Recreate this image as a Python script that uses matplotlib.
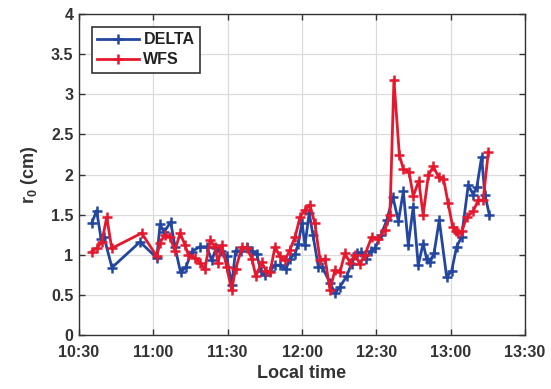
import matplotlib
matplotlib.use("Agg")
import matplotlib.pyplot as plt

# minutes after 10:30
delta_t = [5.1, 7.1, 8.9, 10.1, 13.3, 24.6, 31.4, 32.7, 34.3, 37.0, 38.7, 41.0, 43.2, 45.5,
           48.8, 51.5, 53.6, 55.3, 57.3, 59.6, 61.6, 63.2, 65.4, 67.7, 69.8, 71.7, 73.4,
           75.1, 77.1, 79.1, 81.1, 83.5, 85.1, 87.2, 88.5, 90.0, 91.2, 92.9, 94.4, 96.6,
           98.1, 101.3, 103.3, 105.3, 108.0, 110.0, 112.1, 113.8, 115.8, 117.8, 119.5,
           121.9, 124.2, 126.7, 128.9, 130.9, 132.9, 134.9, 136.9, 138.9, 140.3, 141.6,
           143.3, 145.4, 148.4, 150.4, 152.4, 154.4, 157.1, 159.1, 160.6, 162.5, 163.8, 165.6]
delta_v = [1.39, 1.55, 1.20, 1.22, 0.84, 1.16, 0.96, 1.38, 1.28, 1.41, 1.10, 0.78, 0.85, 1.04,
           1.10, 1.10, 0.93, 1.08, 1.05, 0.98, 0.62, 1.05, 1.05, 1.10, 1.05, 1.01, 0.80,
           0.75, 0.80, 0.87, 0.87, 0.82, 0.95, 1.01, 1.14, 1.40, 1.12, 1.52, 1.25, 0.85,
           0.85, 0.65, 0.52, 0.60, 0.73, 0.89, 1.02, 1.03, 0.95, 1.05, 1.08,
           1.25, 1.43, 1.72, 1.42, 1.79, 1.12, 1.60, 0.87, 1.14, 0.95, 0.91,
           1.02, 1.43, 0.72, 0.80, 1.10, 1.22, 1.87, 1.75, 1.85, 2.22, 1.75, 1.50]

wfs_t = [5.1, 7.1, 9.2, 11.2, 13.2, 25.3, 31.4, 32.7, 34.7, 36.7, 38.7, 40.8, 42.8, 44.1,
         46.8, 48.8, 50.8, 52.9, 54.9, 56.1, 57.6, 59.6, 61.6, 63.2, 65.8, 67.8, 69.8,
         71.4, 73.7, 75.5, 77.1, 79.1, 81.1, 83.1, 85.1, 87.2, 89.2, 91.2, 93.2, 95.2,
         97.3, 99.3, 101.3, 103.3, 105.3, 107.3, 109.4, 111.4, 113.4, 115.4, 118.1,
         120.7, 123.5, 125.5, 127.1, 129.3, 130.9, 133.2, 134.9, 137.1, 138.9, 141.0,
         143.0, 145.1, 147.1, 149.0, 150.8, 152.1, 153.1, 154.6, 156.5, 159.1, 161.1,
         163.1, 165.2]
wfs_v = [1.04, 1.08, 1.16, 1.47, 1.08, 1.27, 0.98, 1.15, 1.25, 1.22, 1.05, 1.27, 1.12, 1.00,
         0.96, 0.90, 0.82, 1.18, 1.10, 0.90, 1.12, 0.85, 0.56, 0.82, 1.10, 1.08, 0.95,
         0.73, 0.91, 0.80, 0.78, 1.10, 0.98, 0.93, 1.06, 1.22, 1.47, 1.56, 1.62, 1.39,
         0.93, 0.95, 0.56, 0.81, 0.78, 1.02, 0.90, 1.00, 0.88, 1.00, 1.22,
         1.20, 1.31, 1.50, 3.18, 2.24, 2.07, 2.03, 1.73, 1.92, 1.50, 1.99,
         2.10, 1.97, 1.95, 1.64, 1.35, 1.30, 1.27, 1.30, 1.47, 1.54, 1.68,
         1.68, 2.28]

x_ticks = [0, 30, 60, 90, 120, 150, 180]
x_labels = ["10:30", "11:00", "11:30", "12:00", "12:30", "13:00", "13:30"]
y_ticks = [0, 0.5, 1, 1.5, 2, 2.5, 3, 3.5, 4]
y_labels = ["0", "0.5", "1", "1.5", "2", "2.5", "3", "3.5", "4"]

plt.rcParams["font.family"] = ["Liberation Sans", "DejaVu Sans"]
plt.rcParams["mathtext.fontset"] = "custom"
plt.rcParams["mathtext.rm"] = "Liberation Sans:bold"
plt.rcParams["mathtext.bf"] = "Liberation Sans:bold"
plt.rcParams["mathtext.default"] = "bf"

fig = plt.figure(figsize=(5.51, 3.89), dpi=100)
ax = fig.add_axes([0.1434, 0.1388, 0.8094, 0.8252])

blue = "#2347a0"
red = "#e5182e"
ax.plot(delta_t, delta_v, color=blue, lw=2.0, marker="+", ms=7, mew=1.8, label="DELTA", zorder=3)
ax.plot(wfs_t, wfs_v, color=red, lw=2.0, marker="+", ms=7, mew=1.8, label="WFS", zorder=4)

ax.set_xlim(0, 180)
ax.set_ylim(0, 4)
ax.set_xticks(x_ticks)
ax.set_xticklabels(x_labels)
ax.set_yticks(y_ticks)
ax.set_yticklabels(y_labels)
ax.grid(True, color="#dcdcdc", lw=0.9)
ax.set_axisbelow(True)
for s in ax.spines.values():
    s.set_color("#333333")
    s.set_linewidth(1.0)
ax.tick_params(direction="in", top=True, right=True, length=4, width=1, colors="#333333",
               labelsize=11.5, labelcolor="#333333")
ax.tick_params(axis="x", pad=7)
ax.tick_params(axis="y", pad=4)
for lab in ax.get_xticklabels() + ax.get_yticklabels():
    lab.set_fontweight("bold")

ax.set_xlabel("Local time", fontsize=13, fontweight="bold", color="#333333", labelpad=4)
ax.set_ylabel(r"r$_0$ (cm)", fontsize=13, fontweight="bold", color="#333333", labelpad=8)

leg = ax.legend(loc="upper left", bbox_to_anchor=(0.028, 0.96), fancybox=False, framealpha=1,
                edgecolor="#333333", prop={"weight": "bold", "size": 11.5},
                handlelength=2.6, borderpad=0.35, labelspacing=0.3, handletextpad=0.3,
                borderaxespad=0)
leg.get_frame().set_linewidth(1.2)
for t in leg.get_texts():
    t.set_color("#222222")

fig.savefig("out.png", dpi=100)
